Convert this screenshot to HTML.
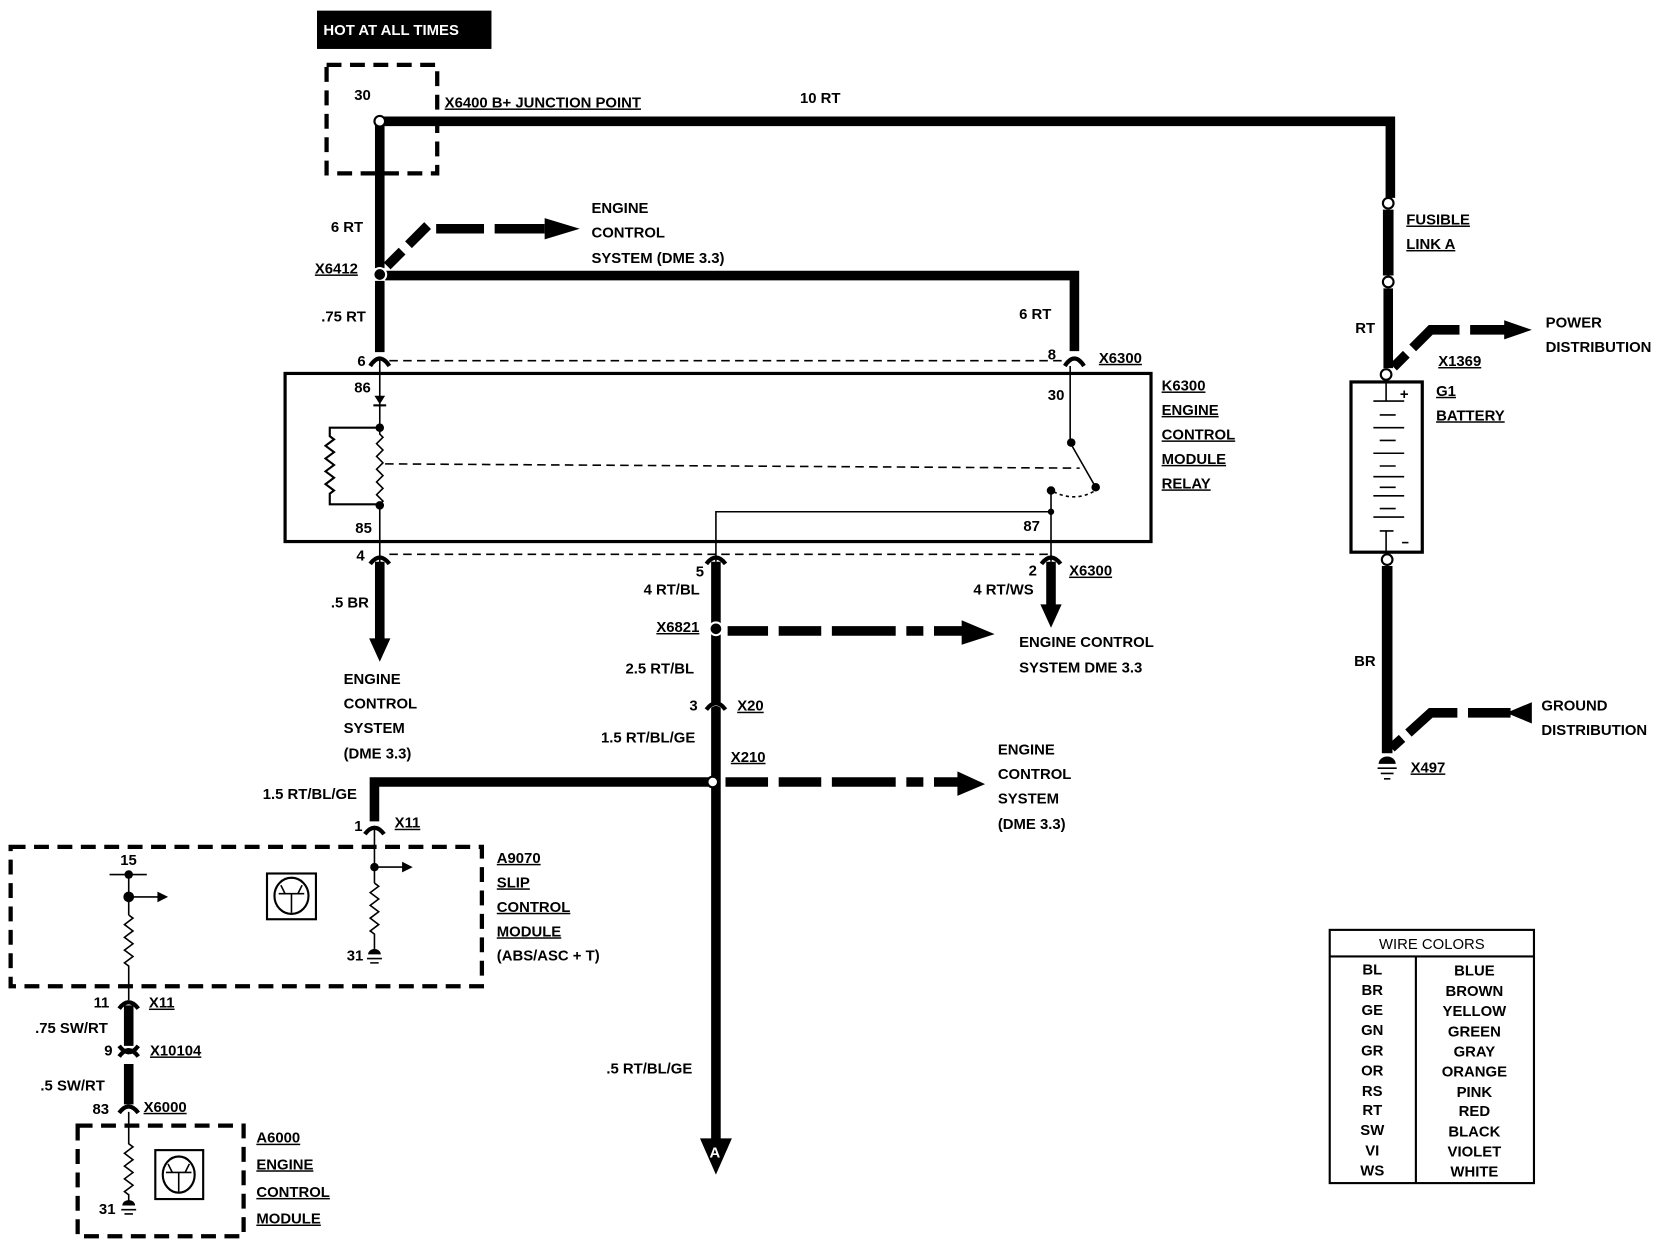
<!DOCTYPE html>
<html><head><meta charset="utf-8"><style>
html,body{margin:0;padding:0;background:#fff;}
svg{display:block}
text{font-family:"Liberation Sans",sans-serif;font-weight:bold;font-size:14px;fill:#000;}
.u{text-decoration:underline;}
</style></head><body>
<svg width="1668" height="1248" viewBox="0 0 1568 1173" preserveAspectRatio="none" xmlns="http://www.w3.org/2000/svg">
<rect x="0" y="0" width="1568" height="1173" fill="#fff"/>
<!-- HOT AT ALL TIMES -->
<rect x="298" y="10" width="164" height="36" fill="#000"/>
<text x="304" y="33" style="fill:#fff">HOT AT ALL TIMES</text>
<!-- junction dashed box -->
<rect x="307" y="61" width="104" height="102" fill="none" stroke="#000" stroke-width="4" stroke-dasharray="14,8"/>
<text x="333" y="94" font-size="13">30</text>
<text x="418" y="101" class="u">X6400 B+ JUNCTION POINT</text>
<text x="752" y="97">10 RT</text>
<!-- top wire -->
<path d="M357,114 H1307 V186" fill="none" stroke="#000" stroke-width="9"/>
<path d="M357,114 V252" stroke="#000" stroke-width="9"/>
<circle cx="357" cy="114" r="5" fill="#fff" stroke="#000" stroke-width="2"/>
<!-- fusible link -->
<circle cx="1305" cy="191" r="5" fill="#fff" stroke="#000" stroke-width="2"/>
<path d="M1305,197 V259" stroke="#000" stroke-width="10"/>
<circle cx="1305" cy="265" r="5" fill="#fff" stroke="#000" stroke-width="2"/>
<path d="M1305,271 V346" stroke="#000" stroke-width="9"/>
<text x="1322" y="211" class="u">FUSIBLE</text>
<text x="1322" y="234" class="u">LINK A</text>
<text x="1274" y="313">RT</text>
<!-- power distribution arrow -->
<path d="M1310,345 L1322,333 M1328,327 L1345,310 H1372 M1382,310 H1416" fill="none" stroke="#000" stroke-width="9"/>
<polygon points="1414,301 1440,310 1414,319" fill="#000"/>
<text x="1453" y="308">POWER</text>
<text x="1453" y="331">DISTRIBUTION</text>
<text x="1352" y="344" class="u">X1369</text>
<circle cx="1303" cy="352" r="5" fill="#fff" stroke="#000" stroke-width="2"/>
<!-- battery -->
<rect x="1270" y="359" width="67" height="160" fill="none" stroke="#000" stroke-width="3"/>
<path d="M1303,359 V377 M1291,377 H1320 M1297,390 H1312 M1291,402 H1320 M1297,414 H1312 M1291,426 H1320 M1297,438 H1312 M1291,448 H1320 M1297,458 H1312 M1291,466 H1320 M1297,478 H1312 M1291,486 H1320 M1297,499 H1310 M1303,499 V519" stroke="#000" stroke-width="1.5"/>
<text x="1316" y="375" font-size="14">+</text>
<path d="M1318,510 H1324" stroke="#000" stroke-width="1.5"/>
<circle cx="1304" cy="526" r="5" fill="#fff" stroke="#000" stroke-width="2"/>
<text x="1350" y="372" class="u">G1</text>
<text x="1350" y="395" class="u">BATTERY</text>
<path d="M1304,532 V708" stroke="#000" stroke-width="10"/>
<text x="1273" y="626">BR</text>
<path d="M1308,703 L1318,694 M1324,689 L1345,670 H1370 M1380,670 H1420" fill="none" stroke="#000" stroke-width="9"/>
<polygon points="1416,670 1440,660 1440,680" fill="#000"/>
<text x="1449" y="668">GROUND</text>
<text x="1449" y="691">DISTRIBUTION</text>
<path d="M1296,718 A8,7 0 0 1 1312,718 Z" fill="#000"/>
<path d="M1295,722 H1313 M1298,727 H1310 M1301,732 H1307" stroke="#000" stroke-width="1.5"/>
<text x="1326" y="726" class="u">X497</text>
<!-- left side -->
<text x="311" y="218">6 RT</text>
<text x="296" y="257" class="u">X6412</text>
<path d="M364,250 L378,236 M384,230 L402,212 M410,215 H455 M465,215 H512" fill="none" stroke="#000" stroke-width="9"/>
<polygon points="512,205 545,215 512,225" fill="#000"/>
<text x="556" y="200">ENGINE</text>
<text x="556" y="223">CONTROL</text>
<text x="556" y="247">SYSTEM (DME 3.3)</text>
<path d="M362,259 H1010 V330" fill="none" stroke="#000" stroke-width="9"/>
<circle cx="357" cy="258" r="6" fill="#000" stroke="#fff" stroke-width="2"/>
<path d="M357,264 V331" stroke="#000" stroke-width="9"/>
<text x="302" y="302">.75 RT</text>
<text x="958" y="300">6 RT</text>
<!-- connectors top -->
<path d="M348,344 Q357,330 366,344 M1001,344 Q1010,330 1019,344" fill="none" stroke="#000" stroke-width="4"/>
<text x="336" y="344" font-size="13">6</text>
<text x="985" y="338" font-size="13">8</text>
<text x="1033" y="341" class="u">X6300</text>
<path d="M366,339 H1000" stroke="#000" stroke-width="1.5" stroke-dasharray="8,5"/>
<!-- relay box -->
<rect x="268" y="351" width="814" height="158" fill="none" stroke="#000" stroke-width="3"/>
<text x="1092" y="367" class="u">K6300</text>
<text x="1092" y="390" class="u">ENGINE</text>
<text x="1092" y="413" class="u">CONTROL</text>
<text x="1092" y="436" class="u">MODULE</text>
<text x="1092" y="459" class="u">RELAY</text>
<path d="M357,338 V530" stroke="#000" stroke-width="1.5"/>
<polygon points="352,372 362,372 357,380" fill="#000"/>
<path d="M351,381 H363" stroke="#000" stroke-width="2"/>
<text x="333" y="369" font-size="12">86</text>
<text x="334" y="501" font-size="12">85</text>
<rect x="352" y="400" width="10" height="78" fill="#fff"/>
<path d="M357,402 l0,6 l3,3 l-6,6 l6,6 l-6,6 l6,6 l-6,6 l6,6 l-6,6 l6,6 l-6,6 l6,6 l-3,3 l0,4" fill="none" stroke="#000" stroke-width="1.5"/>
<path d="M357,402 H310 V410 l4,3 l-8,6 l8,6 l-8,6 l8,6 l-8,6 l8,6 l-8,6 l8,6 l-4,3 V474 H357" fill="none" stroke="#000" stroke-width="2"/>
<circle cx="357" cy="402" r="4" fill="#000"/>
<circle cx="357" cy="475" r="4" fill="#000"/>
<path d="M362,436 L1015,440" stroke="#000" stroke-width="1.5" stroke-dasharray="8,5"/>
<path d="M1006,344 V416 L1030,458" fill="none" stroke="#000" stroke-width="1.5"/>
<circle cx="1007" cy="416" r="4" fill="#000"/>
<circle cx="1030" cy="458" r="4" fill="#000"/>
<path d="M1028,462 Q1010,472 990,462" fill="none" stroke="#000" stroke-width="1.5" stroke-dasharray="3,3"/>
<circle cx="988" cy="461" r="4" fill="#000"/>
<path d="M988,461 V528 M988,481 H673 V528" fill="none" stroke="#000" stroke-width="1.5"/>
<circle cx="988" cy="481" r="3" fill="#000"/>
<text x="985" y="376" font-size="13">30</text>
<text x="962" y="499" font-size="13">87</text>
<!-- bottom connectors -->
<path d="M366,521 H985" stroke="#000" stroke-width="1.5" stroke-dasharray="8,5"/>
<path d="M348,530 Q357,518 366,530 M664,530 Q673,518 682,530 M979,530 Q988,518 997,530" fill="none" stroke="#000" stroke-width="4"/>
<text x="335" y="527" font-size="13">4</text>
<text x="654" y="542" font-size="13">5</text>
<text x="967" y="541" font-size="13">2</text>
<text x="1005" y="541" class="u">X6300</text>
<path d="M357,528 V602" stroke="#000" stroke-width="9"/>
<polygon points="347,600 367,600 357,622" fill="#000"/>
<text x="311" y="571">.5 BR</text>
<text x="323" y="643">ENGINE</text>
<text x="323" y="666">CONTROL</text>
<text x="323" y="689">SYSTEM</text>
<text x="323" y="713">(DME 3.3)</text>
<path d="M988,528 V570" stroke="#000" stroke-width="9"/>
<polygon points="978,568 998,568 988,590" fill="#000"/>
<text x="915" y="559">4 RT/WS</text>
<!-- middle wire -->
<path d="M673,528 V1075" stroke="#000" stroke-width="9"/>
<polygon points="658,1070 688,1070 673,1104" fill="#000"/>
<text x="667" y="1088" font-size="13" style="fill:#fff">A</text>
<text x="605" y="559">4 RT/BL</text>
<circle cx="673" cy="591" r="6" fill="#000" stroke="#fff" stroke-width="2"/>
<text x="617" y="594" class="u">X6821</text>
<path d="M684,593 H722 M732,593 H772 M782,593 H842 M852,593 H868 M878,593 H906" stroke="#000" stroke-width="9"/>
<polygon points="904,583 935,596 904,606" fill="#000"/>
<text x="958" y="608">ENGINE  CONTROL</text>
<text x="958" y="632">SYSTEM DME 3.3</text>
<text x="588" y="633">2.5 RT/BL</text>
<path d="M664,668 Q673,656 682,668" fill="none" stroke="#fff" stroke-width="3"/>
<path d="M664,667 Q673,655 682,667" fill="none" stroke="#000" stroke-width="4"/>
<text x="648" y="668" font-size="13">3</text>
<text x="693" y="668" class="u">X20</text>
<text x="565" y="698">1.5 RT/BL/GE</text>
<text x="687" y="716" class="u">X210</text>
<path d="M670,735 H352 V772" fill="none" stroke="#000" stroke-width="9"/>
<circle cx="670" cy="735" r="5" fill="#fff" stroke="#000" stroke-width="2"/>
<path d="M682,735 H722 M732,735 H772 M782,735 H842 M852,735 H868 M878,735 H902" stroke="#000" stroke-width="9"/>
<polygon points="900,725 926,737 900,748" fill="#000"/>
<text x="938" y="709">ENGINE</text>
<text x="938" y="732">CONTROL</text>
<text x="938" y="755">SYSTEM</text>
<text x="938" y="779">(DME 3.3)</text>
<text x="247" y="751">1.5 RT/BL/GE</text>
<path d="M343,784 Q352,772 361,784" fill="none" stroke="#000" stroke-width="4"/>
<text x="333" y="781" font-size="13">1</text>
<text x="371" y="778" class="u">X11</text>
<text x="570" y="1009">.5 RT/BL/GE</text>
<!-- A9070 -->
<rect x="10" y="796" width="443" height="131" fill="none" stroke="#000" stroke-width="4" stroke-dasharray="14,8"/>
<path d="M352,780 V830 M352,815 H380" fill="none" stroke="#000" stroke-width="1.5"/>
<polygon points="378,810 388,815 378,820" fill="#000"/>
<circle cx="352" cy="815" r="4" fill="#000"/>
<path d="M352,830 l4,3 l-8,6 l8,6 l-8,6 l8,6 l-8,6 l8,6 l-8,6 l4,3 V895" fill="none" stroke="#000" stroke-width="1.5"/>
<path d="M346,897 A6,5 0 0 1 358,897 Z" fill="#000"/>
<path d="M345,901 H359 M348,905 H356" stroke="#000" stroke-width="1.5"/>
<text x="326" y="903" font-size="12">31</text>
<text x="113" y="813" font-size="12">15</text>
<path d="M103,822 H138 M121,822 V860 M121,843 H150" fill="none" stroke="#000" stroke-width="1.5"/>
<circle cx="121" cy="822" r="4" fill="#000"/>
<circle cx="121" cy="843" r="5" fill="#000"/>
<polygon points="148,838 158,843 148,848" fill="#000"/>
<path d="M121,860 l4,3 l-8,6 l8,6 l-8,6 l8,6 l-8,6 l8,6 l-8,6 l4,3 V940" fill="none" stroke="#000" stroke-width="1.5"/>
<rect x="251" y="821" width="46" height="43" fill="none" stroke="#000" stroke-width="2"/>
<ellipse cx="274" cy="842" rx="16" ry="17" fill="none" stroke="#000" stroke-width="2"/>
<path d="M262,840 H286 M274,840 V858 M264,832 L268,840 M284,832 L280,840" fill="none" stroke="#000" stroke-width="1.5"/>
<text x="467" y="811" class="u">A9070</text>
<text x="467" y="834" class="u">SLIP</text>
<text x="467" y="857" class="u">CONTROL</text>
<text x="467" y="880" class="u">MODULE</text>
<text x="467" y="903">(ABS/ASC + T)</text>
<!-- lower left connectors -->
<path d="M112,948 Q121,936 130,948" fill="none" stroke="#000" stroke-width="4"/>
<path d="M121,945 V983" stroke="#000" stroke-width="9"/>
<path d="M112,983 Q121,995 130,983 M112,993 Q121,981 130,993" fill="none" stroke="#000" stroke-width="4"/>
<text x="88" y="947" font-size="13">11</text>
<text x="140" y="947" class="u">X11</text>
<text x="33" y="971">.75 SW/RT</text>
<text x="98" y="992" font-size="13">9</text>
<text x="141" y="992" class="u">X10104</text>
<path d="M121,1000 V1038" stroke="#000" stroke-width="9"/>
<path d="M112,1046 Q121,1034 130,1046" fill="none" stroke="#000" stroke-width="4"/>
<text x="38" y="1025">.5  SW/RT</text>
<text x="87" y="1047" font-size="13">83</text>
<text x="135" y="1045" class="u">X6000</text>
<!-- A6000 -->
<rect x="73" y="1058" width="156" height="104" fill="none" stroke="#000" stroke-width="4" stroke-dasharray="14,8"/>
<path d="M121,1045 V1075 l4,3 l-8,6 l8,6 l-8,6 l8,6 l-8,6 l8,6 l-8,6 l4,3 V1130" fill="none" stroke="#000" stroke-width="1.5"/>
<path d="M115,1133 A6,5 0 0 1 127,1133 Z" fill="#000"/>
<path d="M114,1137 H128 M117,1141 H125" stroke="#000" stroke-width="1.5"/>
<text x="93" y="1141" font-size="12">31</text>
<rect x="146" y="1081" width="45" height="46" fill="none" stroke="#000" stroke-width="2"/>
<ellipse cx="168" cy="1104" rx="15" ry="17" fill="none" stroke="#000" stroke-width="2"/>
<path d="M156,1102 H180 M168,1102 V1120 M158,1094 L162,1102 M178,1094 L174,1102" fill="none" stroke="#000" stroke-width="1.5"/>
<text x="241" y="1074" class="u">A6000</text>
<text x="241" y="1099" class="u">ENGINE</text>
<text x="241" y="1125" class="u">CONTROL</text>
<text x="241" y="1150" class="u">MODULE</text>
<!-- wire colors table -->
<rect x="1250" y="874" width="192" height="238" fill="none" stroke="#000" stroke-width="2"/>
<path d="M1250,899 H1442 M1331,899 V1112" stroke="#000" stroke-width="2"/>
<text x="1346" y="892" text-anchor="middle" font-weight="normal" style="font-weight:normal">WIRE COLORS</text>
<g text-anchor="middle">
<text x="1290" y="916">BL</text><text x="1386" y="917">BLUE</text>
<text x="1290" y="935">BR</text><text x="1386" y="936">BROWN</text>
<text x="1290" y="954">GE</text><text x="1386" y="955">YELLOW</text>
<text x="1290" y="973">GN</text><text x="1386" y="974">GREEN</text>
<text x="1290" y="992">GR</text><text x="1386" y="993">GRAY</text>
<text x="1290" y="1011">OR</text><text x="1386" y="1012">ORANGE</text>
<text x="1290" y="1030">RS</text><text x="1386" y="1031">PINK</text>
<text x="1290" y="1048">RT</text><text x="1386" y="1049">RED</text>
<text x="1290" y="1067">SW</text><text x="1386" y="1068">BLACK</text>
<text x="1290" y="1086">VI</text><text x="1386" y="1087">VIOLET</text>
<text x="1290" y="1105">WS</text><text x="1386" y="1106">WHITE</text>
</g>
</svg>
</body></html>
